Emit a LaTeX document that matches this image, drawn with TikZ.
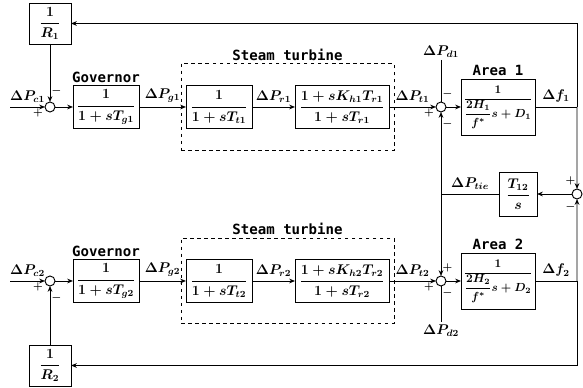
\documentclass[tikz,border=0pt]{standalone}
\usepackage{amsmath}
\usepackage{fontspec}
\setmonofont{DejaVu Sans Mono}
\usetikzlibrary{arrows.meta, positioning, calc, fit}

\begin{document}
\begin{tikzpicture}[
    auto,
    >={Stealth[length=5pt,width=4pt]},
    % ブロック
    block/.style={rectangle, draw, thick, outer sep=0pt, inner sep=2pt, minimum height=1.29cm, minimum width=1.98cm, font=\large\boldmath},
    % 加え合わせ点
    sum/.style={circle, draw, thick, outer sep=0pt, minimum size=0.3cm, inner sep=0pt},
    coord/.style={coordinate},
    title/.style={font=\ttfamily\bfseries\fontsize{12}{14}\selectfont, inner sep=2pt},
    sig/.style={font=\small\boldmath, inner sep=1pt},
    every path/.style={thick},
    every node/.append style={font=\large\boldmath}
]
\useasboundingbox (-0.30,3.21) rectangle (17.19,-8.43);

% 1. エリア1
\node [coord] (in1) {};
\node [sum, right=1.05cm of in1] (sum1) {};
\node [block, right=0.54cm of sum1] (gov1) {$\dfrac{1}{1+sT_{g1}}$};
\node [block, right=1.41cm of gov1] (tur1) {$\dfrac{1}{1+sT_{t1}}$};
\node [block, minimum width=2.82cm, right=1.29cm of tur1] (rh1) {$\dfrac{1+sK_{h1}T_{r1}}{1+sT_{r1}}$};
\node [sum, right=1.41cm of rh1] (sum2) {};
\node [block, minimum width=2.1cm, minimum height=1.68cm, font=\normalsize\boldmath, right=0.45cm of sum2] (area1) {$\dfrac{1}{\dfrac{2H_1}{f^*}s+D_1}$};
\node [coord, right=1.26cm of area1] (f1) {};
\node [block, minimum width=1.26cm, minimum height=1.23cm, above=1.74cm of sum1] (R1) {$\dfrac{1}{R_1}$};
\node [above=1.26cm of sum2, inner sep=2pt] (pd1) {$\Delta P_{d1}$};

\node [draw, dashed, thick, fit=(tur1)(rh1), inner xsep=0.15cm, inner ysep=0.66cm] (st1) {};
\node [title, above=0pt of st1] {Steam turbine};
\node [title, above=0pt of gov1] {Governor};
\node [title, above=0pt of area1] {Area 1};

% 2. エリア2
\node [coord, below=5.22cm of in1] (in2) {};
\node [sum, right=1.05cm of in2] (sum5) {};
\node [block, right=0.54cm of sum5] (gov2) {$\dfrac{1}{1+sT_{g2}}$};
\node [block, right=1.41cm of gov2] (tur2) {$\dfrac{1}{1+sT_{t2}}$};
\node [block, minimum width=2.82cm, right=1.29cm of tur2] (rh2) {$\dfrac{1+sK_{h2}T_{r2}}{1+sT_{r2}}$};
\node [sum, right=1.41cm of rh2] (sum4) {};
\node [block, minimum width=2.1cm, minimum height=1.68cm, font=\normalsize\boldmath, right=0.45cm of sum4] (area2) {$\dfrac{1}{\dfrac{2H_2}{f^*}s+D_2}$};
\node [coord, right=1.26cm of area2] (f2) {};
\node [block, minimum width=1.26cm, minimum height=1.23cm, below=1.77cm of sum5] (R2) {$\dfrac{1}{R_2}$};
\node [below=1.08cm of sum4, inner sep=2pt] (pd2) {$\Delta P_{d2}$};

\node [draw, dashed, thick, fit=(tur2)(rh2), inner xsep=0.15cm, inner ysep=0.64cm] (st2) {};
\node [title, above=0pt of st2] {Steam turbine};
\node [title, above=0pt of gov2] {Governor};
\node [title, above=0pt of area2] {Area 2};

% 3. 連系線
\node [sum] (sum3) at ($(f1)!0.5!(f2)$) {};
\node [block, minimum width=1.14cm, minimum height=1.32cm, left=1.05cm of sum3] (tie) {$\dfrac{T_{12}}{s}$};
\coordinate (tj) at (tie -| sum2);

% 4. 結線
\draw [->] (in1) -- node {$\Delta P_{c1}$} node[sig, pos=0.8, below] {$+$} (sum1);
\draw [->] (sum1) -- (gov1);
\draw [->] (gov1) -- node {$\Delta P_{g1}$} (tur1);
\draw [->] (tur1) -- node {$\Delta P_{r1}$} (rh1);
\draw [->] (rh1) -- node {$\Delta P_{t1}$} node[sig, pos=0.85, below] {$+$} (sum2);
\draw [->] (sum2) -- (area1);
\draw (area1) -- node {$\Delta f_1$} (f1);
\draw (pd1) -- node[sig, pos=0.8, right] {$-$} (sum2);

\draw [->] (in2) -- node {$\Delta P_{c2}$} node[sig, pos=0.8, below] {$+$} (sum5);
\draw [->] (sum5) -- (gov2);
\draw [->] (gov2) -- node {$\Delta P_{g2}$} (tur2);
\draw [->] (tur2) -- node {$\Delta P_{r2}$} (rh2);
\draw [->] (rh2) -- node {$\Delta P_{t2}$} node[sig, pos=0.85, below] {$+$} (sum4);
\draw [->] (sum4) -- (area2);
\draw (area2) -- node {$\Delta f_2$} (f2);
\draw (pd2) -- node[sig, pos=0.8, right] {$-$} (sum4);

% 5. フィードバック
\draw [->] (f1) |- (R1);
\draw [->] (R1) -- node[sig, pos=0.8, right] {$-$} (sum1);
\draw [->] (f2) |- (R2);
\draw [->] (R2) -- node[sig, pos=0.8, right] {$-$} (sum5);
\draw [->] (f1) -- node[sig, pos=0.9, left] {$+$} (sum3);
\draw [->] (f2) -- node[sig, pos=0.9, left] {$-$} (sum3);
\draw [->] (sum3) -- (tie);
\draw (tie) -- node[above] {$\Delta P_{tie}$} (tj);
\draw [->] (tj) -- node[sig, pos=0.85, right] {$-$} (sum2);
\draw [->] (tj) -- node[sig, pos=0.9, right] {$+$} (sum4);

\end{tikzpicture}
\end{document}
